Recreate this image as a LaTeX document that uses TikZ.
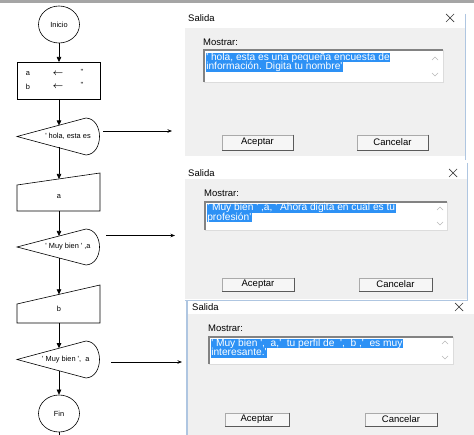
\documentclass[tikz,border=0pt]{standalone}
\usepackage{fontspec}
\setmainfont{Liberation Sans}
\usetikzlibrary{arrows.meta,shapes.geometric}
\definecolor{sel}{RGB}{45,145,245}
\definecolor{dlgbg}{RGB}{240,240,240}
\definecolor{topbar}{RGB}{165,165,165}
\definecolor{winb}{RGB}{175,198,225}
\definecolor{btnfill}{RGB}{246,246,246}
\definecolor{btnline}{RGB}{170,170,170}
\definecolor{btndark}{RGB}{90,90,90}
\definecolor{tbdark}{RGB}{130,130,130}
\definecolor{tblight}{RGB}{220,220,220}
\definecolor{chevc}{RGB}{185,185,185}
\definecolor{xcol}{RGB}{60,60,60}
\newcommand\q{\textquotesingle}
\newcommand\fcf{\fontsize{7.4}{8}\selectfont}
\newcommand\dlgf{\fontsize{9.5}{10}\selectfont}
\newcommand\self{\fontsize{10.2}{10}\selectfont}
\newcommand\dispath[3]{(17,#1) -- (86,#2) .. controls (104,#2+1) and (104,#3-1) .. (86,#3) -- cycle}
\begin{document}
\begin{tikzpicture}[x=1pt,y=-1pt,
  shp/.style={draw, line width=0.6pt, fill=white},
  flow/.style={line width=0.6pt, -{Triangle[length=5pt,width=4.5pt]}},
  outarr/.style={line width=0.6pt, -{Stealth[length=4.5pt,width=3.5pt]}},
  term/.style={ellipse, draw, line width=0.6pt, minimum width=41pt, minimum height=37pt, inner sep=0pt, font=\fcf},
  fc/.style={font=\fcf, inner sep=0pt},
  dlg/.style={font=\dlgf, inner sep=0pt, anchor=west},
  selbox/.style={fill=sel, text=white, font=\self, inner xsep=0.6pt, inner ysep=0pt, text height=7.3pt, text depth=1.9pt, anchor=north west},
  btn/.style={draw=btnline, fill=btnfill, line width=0.6pt, inner sep=0pt, font=\dlgf},
  btnedge/.style={draw=btndark, line width=1.1pt},
  chev/.style={draw=chevc, line width=0.6pt},
  xmark/.style={draw=xcol, line width=0.7pt},
  win/.style={draw=winb, line width=1.3pt}]
\useasboundingbox (0,0) rectangle (474,435);
\fill[white] (0,0) rectangle (474,435);
\fill[topbar] (0,0) rectangle (474,3);

% ---------------- flowchart ----------------
\node[term] (ini) at (59,24.5) {Inicio};
\draw[shp] (17,62) rectangle (100,99);
\coordinate (boxN) at (59,62);
\coordinate (boxS) at (59,99);
\node[fc] (va) at (28,74) {a};
\node[fc] (vb) at (28,87) {b};
\node[fc, font=\fontsize{9}{9}\selectfont\boldmath] (la) at (58,74) {$\leftarrow$};
\node[fc, font=\fontsize{9}{9}\selectfont\boldmath] (lb) at (58,87) {$\leftarrow$};
\node[fc] (ea) at (82,71.5) {\q\q};
\node[fc] (eb) at (82,84.5) {\q\q};

\draw[shp] \dispath{136.5}{118}{155};
\coordinate (d1N) at (59,125.5);
\coordinate (d1S) at (59,147.5);
\node[fc] (t1) at (68,136.5) {\q\ hola, esta es};

\draw[shp] (17,185) -- (100,173) -- (100,211) -- (17,211) -- cycle;
\coordinate (maN) at (59,179);
\coordinate (maS) at (59,211);
\node[fc] (ta) at (59,197) {a};

\draw[shp] \dispath{247}{229}{265};
\coordinate (d2N) at (59,236);
\coordinate (d2S) at (59,258);
\node[fc] (t2) at (68,247) {\q\ Muy bien \q\ ,a};

\draw[shp] (17,304) -- (100,285) -- (100,323) -- (17,323) -- cycle;
\coordinate (mbN) at (59,294.4);
\coordinate (mbS) at (59,323);
\node[fc] (tb) at (59,309) {b};

\draw[shp] \dispath{359.5}{341}{378};
\coordinate (d3N) at (59,348.2);
\coordinate (d3S) at (59,370.8);
\begin{scope}
\clip (17,341) rectangle (95.5,378);
\node[fc, anchor=west] (t3) at (42,359.5) {\q\ Muy bien \q,\ \ a};
\end{scope}

\node[term] (fin) at (59,413.5) {Fin};
\coordinate (finEnd) at (59,435);

\draw[flow] (ini.south) -- (boxN);
\draw[flow] (boxS) -- (d1N);
\draw[flow] (d1S) -- (maN);
\draw[flow] (maS) -- (d2N);
\draw[flow] (d2S) -- (mbN);
\draw[flow] (mbS) -- (d3N);
\draw[flow] (d3S) -- (fin.north);
\draw[line width=0.6pt] (fin.south) -- (finEnd);

\coordinate (o1s) at (103,131);
\coordinate (o1e) at (172,131);
\coordinate (o2s) at (106,235.5);
\coordinate (o2e) at (175,235.5);
\coordinate (o3s) at (111,362);
\coordinate (o3e) at (182,362);
\draw[outarr] (o1s) -- (o1e);
\draw[outarr] (o2s) -- (o2e);
\draw[outarr] (o3s) -- (o3e);

% ---------------- dialog 1 ----------------
\fill[dlgbg] (185,28) rectangle (465,156);
\draw[win] (465.5,14) -- (465.5,160);
\node[dlg] (s1) at (188,18) {Salida};
\draw[xmark] (446,14) -- (454,22) (446,22) -- (454,14);
\node[dlg] (m1) at (203,42) {Mostrar:};
\fill[white] (204,50) rectangle (443,82);
\draw[tblight, line width=0.8pt] (443,50) -- (443,82) -- (204,82);
\draw[tbdark, line width=1.2pt] (204,82) -- (204,50) -- (443,50);
\node[selbox] (h11) at (205.5,53) {\q\ hola, esta es una pequeña encuesta de };
\node[selbox] (h12) at (205.5,62.2) {información. Digita tu nombre\q};
\draw[chev] (432,60) -- (435,57) -- (438,60);
\draw[chev] (432,73) -- (435,76) -- (438,73);
\node[btn, minimum width=71pt, minimum height=15pt] (ok1) at (257.5,142.5) {Aceptar};
\draw[btnedge] (ok1.north east) -- (ok1.south east) -- (ok1.south west);
\node[btn, minimum width=71pt, minimum height=15pt] (cn1) at (392.5,142.5) {Cancelar};
\draw[btnedge] (cn1.north east) -- (cn1.south east) -- (cn1.south west);

% ---------------- dialog 2 ----------------
\fill[dlgbg] (185,179) rectangle (467,299.5);
\draw[win] (467.5,163) -- (467.5,300.5) -- (185,300.5);
\node[dlg] (s2) at (188,173) {Salida};
\draw[xmark] (449,169) -- (457,177) (449,177) -- (457,169);
\node[dlg] (m2) at (204,193) {Mostrar:};
\fill[white] (205,202) rectangle (447,230);
\draw[tblight, line width=0.8pt] (447,202) -- (447,230) -- (205,230);
\draw[tbdark, line width=1.2pt] (205,230) -- (205,202) -- (447,202);
\node[selbox] (h21) at (206.5,203.5) {\q\ Muy bien \q\ ,a, \q\ Ahora digita en cual es tu };
\node[selbox] (h22) at (206.5,212.7) {profesión\q};
\draw[chev] (437,210) -- (440,207) -- (443,210);
\draw[chev] (437,222) -- (440,225) -- (443,222);
\node[btn, minimum width=72pt, minimum height=13pt] (ok2) at (258,284.5) {Aceptar};
\draw[btnedge] (ok2.north east) -- (ok2.south east) -- (ok2.south west);
\node[btn, minimum width=73pt, minimum height=13pt] (cn2) at (395.5,284.5) {Cancelar};
\draw[btnedge] (cn2.north east) -- (cn2.south east) -- (cn2.south west);

% ---------------- dialog 3 ----------------
\fill[dlgbg] (188,314) rectangle (474,435);
\draw[win] (187,301) -- (187,435);
\node[dlg] (s3) at (192,307) {Salida};
\draw[xmark] (455,303) -- (463,311) (455,311) -- (463,303);
\node[dlg] (m3) at (208,328) {Mostrar:};
\fill[white] (209,337) rectangle (453,364);
\draw[tblight, line width=0.8pt] (453,337) -- (453,364) -- (209,364);
\draw[tbdark, line width=1.2pt] (209,364) -- (209,337) -- (453,337);
\node[selbox] (h31) at (210.5,339) {\q\ Muy bien \q,\ \ a,\q\ \ tu perfil de \ \q,\ \ b ,\q\ \ es muy };
\node[selbox] (h32) at (210.5,348.2) {interesante.\q};
\draw[chev] (442,344) -- (445,341) -- (448,344);
\draw[chev] (442,356) -- (445,359) -- (448,356);
\node[btn, minimum width=64pt, minimum height=13pt] (ok3) at (257,419.5) {Aceptar};
\draw[btnedge] (ok3.north east) -- (ok3.south east) -- (ok3.south west);
\node[btn, minimum width=72pt, minimum height=13pt] (cn3) at (401,419.5) {Cancelar};
\draw[btnedge] (cn3.north east) -- (cn3.south east) -- (cn3.south west);
\end{tikzpicture}
\end{document}
